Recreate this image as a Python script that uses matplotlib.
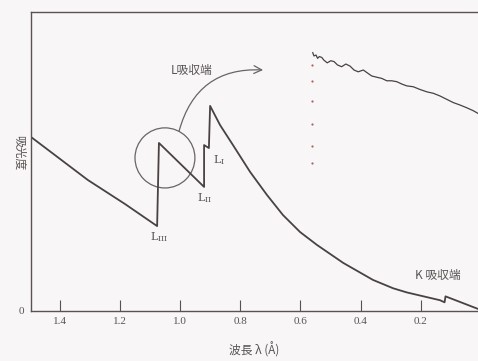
import matplotlib.pyplot as plt
from matplotlib.patches import Ellipse

plt.rcParams['font.family'] = ['Noto Sans CJK JP', 'DejaVu Sans']
plt.rcParams['mathtext.fontset'] = 'dejavuserif'

# 吸収曲線 (波長 Å, 吸光度 任意単位)
wavelength = [1.495, 1.306, 1.183, 1.076, 1.070, 0.920, 0.920, 0.904, 0.900,
              0.867, 0.824, 0.767, 0.711, 0.658, 0.601, 0.545, 0.458, 0.359,
              0.292, 0.246, 0.136, 0.121, 0.118, 0.010]
absorbance = [0.582, 0.438, 0.358, 0.284, 0.562, 0.415, 0.555, 0.545, 0.686,
              0.622, 0.555, 0.465, 0.388, 0.321, 0.264, 0.221, 0.161, 0.104,
              0.076, 0.062, 0.036, 0.029, 0.049, 0.007]

# L吸収端付近の拡大 (微細構造)
fine_wl = [0.559, 0.555, 0.548, 0.543, 0.537, 0.529, 0.522, 0.511, 0.499,
           0.488, 0.477, 0.463, 0.449, 0.435, 0.422, 0.408, 0.391, 0.380,
           0.363, 0.347, 0.330, 0.313, 0.297, 0.280, 0.263, 0.247, 0.225,
           0.203, 0.180, 0.158, 0.136, 0.114, 0.092, 0.070, 0.048, 0.026,
           0.010]
fine_abs = [0.864, 0.853, 0.856, 0.845, 0.851, 0.848, 0.839, 0.830, 0.837,
            0.834, 0.823, 0.817, 0.826, 0.819, 0.806, 0.800, 0.806, 0.798,
            0.786, 0.782, 0.778, 0.770, 0.770, 0.767, 0.759, 0.753, 0.750,
            0.741, 0.733, 0.728, 0.719, 0.708, 0.697, 0.689, 0.680, 0.670,
            0.661]

# 点線
dot_wl = [0.56] * 6
dot_abs = [0.823, 0.769, 0.702, 0.625, 0.552, 0.495]

xticks = [1.4, 1.2, 1.0, 0.8, 0.6, 0.4, 0.2]
xtick_labels = ['1.4', '1.2', '1.0', '0.8', '0.6', '0.4', '0.2']

line_c = '#4a4242'
text_c = '#5a5454'
bg = '#f8f6f6'

fig = plt.figure(figsize=(4.78, 3.61), dpi=100, facecolor=bg)
ax = fig.add_axes([31 / 478, 50 / 361, 447 / 478, 299 / 361], facecolor=bg)

ax.plot(wavelength, absorbance, color=line_c, lw=1.3)
ax.plot(fine_wl, fine_abs, color=line_c, lw=0.9)
ax.plot(dot_wl, dot_abs, ls='none', marker='o', ms=1.6, color='#b06060', mec='none')

ax.set_xlim(1.495, 0.01)
ax.set_ylim(0, 1)

for s in ['left', 'top', 'bottom']:
    ax.spines[s].set_color('#5a5252')
    ax.spines[s].set_linewidth(1.0)
ax.spines['right'].set_visible(False)

ax.set_xticks(xticks)
ax.set_xticklabels(xtick_labels, family='Liberation Serif', fontsize=8, color=text_c)
ax.tick_params(axis='x', direction='in', length=8, width=0.8, color='#5a5252', pad=4)
ax.set_yticks([0])
ax.set_yticklabels(['0'], family='Liberation Serif', fontsize=8, color=text_c)
ax.tick_params(axis='y', length=0, pad=5)

ax.set_xlabel('波長 λ (Å)', fontsize=8.5, color=text_c, labelpad=12)
fig.text(19 / 478, 1 - 153 / 361, '吸光度', fontsize=8.5, color=text_c,
         rotation=270, ha='center', va='center')

# 拡大の丸と矢印
ax.add_patch(Ellipse((1.050, 0.512), 0.199, 0.201, fill=False, ec='#6a6464', lw=0.9))
ax.annotate('', xy=(0.724, 0.806), xytext=(1.003, 0.602),
            arrowprops=dict(arrowstyle='->', color='#6a6464', lw=0.9,
                            mutation_scale=14, connectionstyle='arc3,rad=-0.4',
                            shrinkA=0, shrinkB=0))

ax.text(0.963, 0.806, 'L吸収端', fontsize=8.5, color=text_c, ha='center', va='center')
ax.text(0.143, 0.120, 'K 吸収端', fontsize=8.5, color=text_c, ha='center', va='center')
ax.text(1.070, 0.247, r'$\mathrm{L_{III}}$', fontsize=8, color=text_c, ha='center', va='center')
ax.text(0.917, 0.378, r'$\mathrm{L_{II}}$', fontsize=8, color=text_c, ha='center', va='center')
ax.text(0.870, 0.505, r'$\mathrm{L_{I}}$', fontsize=8, color=text_c, ha='center', va='center')

fig.savefig('out.png', dpi=100, facecolor=bg)
